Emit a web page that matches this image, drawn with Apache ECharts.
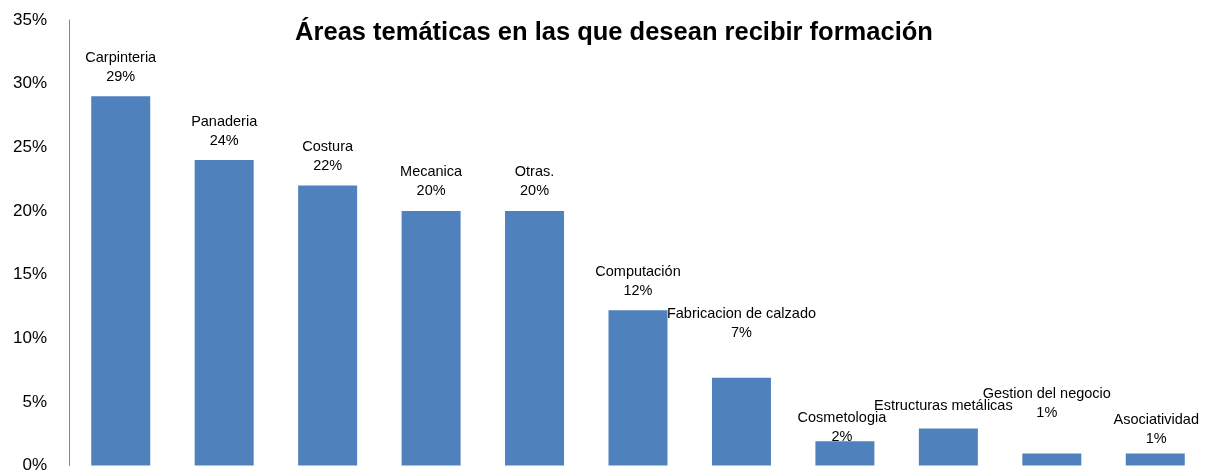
<!DOCTYPE html>
<html>
<head>
<meta charset="utf-8">
<script src="https://cdn.jsdelivr.net/npm/echarts@6/dist/echarts.min.js"></script>
<style>html,body{margin:0;padding:0;background:#fff;overflow:hidden;}#c{width:1207px;height:474px;}</style>
</head>
<body>
<div id="c"></div>
<script>
var categories = ['Carpinteria','Panaderia','Costura','Mecanica','Otras.','Computación','Fabricacion de calzado','Cosmetologia','Estructuras metálicas','Gestion del negocio','Asociatividad'];
var values = [29, 24, 22, 20, 20, 12.2, 6.9, 1.9, 2.9, 0.95, 0.95];
var yTicks = [0, 5, 10, 15, 20, 25, 30, 35];

// label placement tweaks (style only)
var labelOffsets = [[0,0],[0,0],[0,0],[0,0],[0,0],[0,0],[0,-25],[-3,15],[-5,16],[-5,-21],[1,5]];
var hiddenPct = [false,false,false,false,false,false,false,false,true,false,false];

var BAR = '#4F81BD';
var FONT = 'Liberation Sans';

var data = values.map(function (v, i) {
  return {
    value: v,
    label: {
      offset: labelOffsets[i],
      formatter: function (p) {
        var pct = Math.round(p.value) + '%';
        return '{n|' + p.name + '}\n' + (hiddenPct[p.dataIndex] ? '{h|' + pct + '}' : '{n|' + pct + '}');
      }
    }
  };
});

var chart = echarts.init(document.getElementById('c'));
chart.setOption({
  animation: false,
  title: {
    text: 'Áreas temáticas en las que desean recibir formación',
    left: 609, top: 15, textAlign: 'center',
    textStyle: { fontFamily: FONT, fontSize: 25.5, fontWeight: 'bold', color: '#000' }
  },
  grid: { left: 69, right: -6, top: 20, bottom: 5, containLabel: false },
  xAxis: {
    type: 'category', data: categories,
    axisLine: { show: false }, axisTick: { show: false }, axisLabel: { show: false }
  },
  yAxis: {
    type: 'value', min: 0, max: 35, interval: 5,
    axisLine: { show: true, lineStyle: { color: '#868686', width: 1 } },
    axisTick: { show: false },
    splitLine: { show: false },
    axisLabel: {
      formatter: function (v) { return yTicks.indexOf(v) >= 0 ? v + '%' : ''; },
      fontFamily: FONT, fontSize: 17, color: '#000', margin: 22
    }
  },
  series: [{
    type: 'bar', data: data, barWidth: 59,
    itemStyle: { color: BAR },
    label: {
      show: true, position: 'top', distance: 10,
      fontFamily: FONT, fontSize: 14.5, color: '#000', lineHeight: 19, align: 'center',
      rich: {
        n: { fontFamily: FONT, fontSize: 14.5, color: '#000', lineHeight: 19 },
        h: { fontFamily: FONT, fontSize: 14.5, color: 'rgba(255,255,255,0)', lineHeight: 19 }
      }
    }
  }]
});
</script>
</body>
</html>
